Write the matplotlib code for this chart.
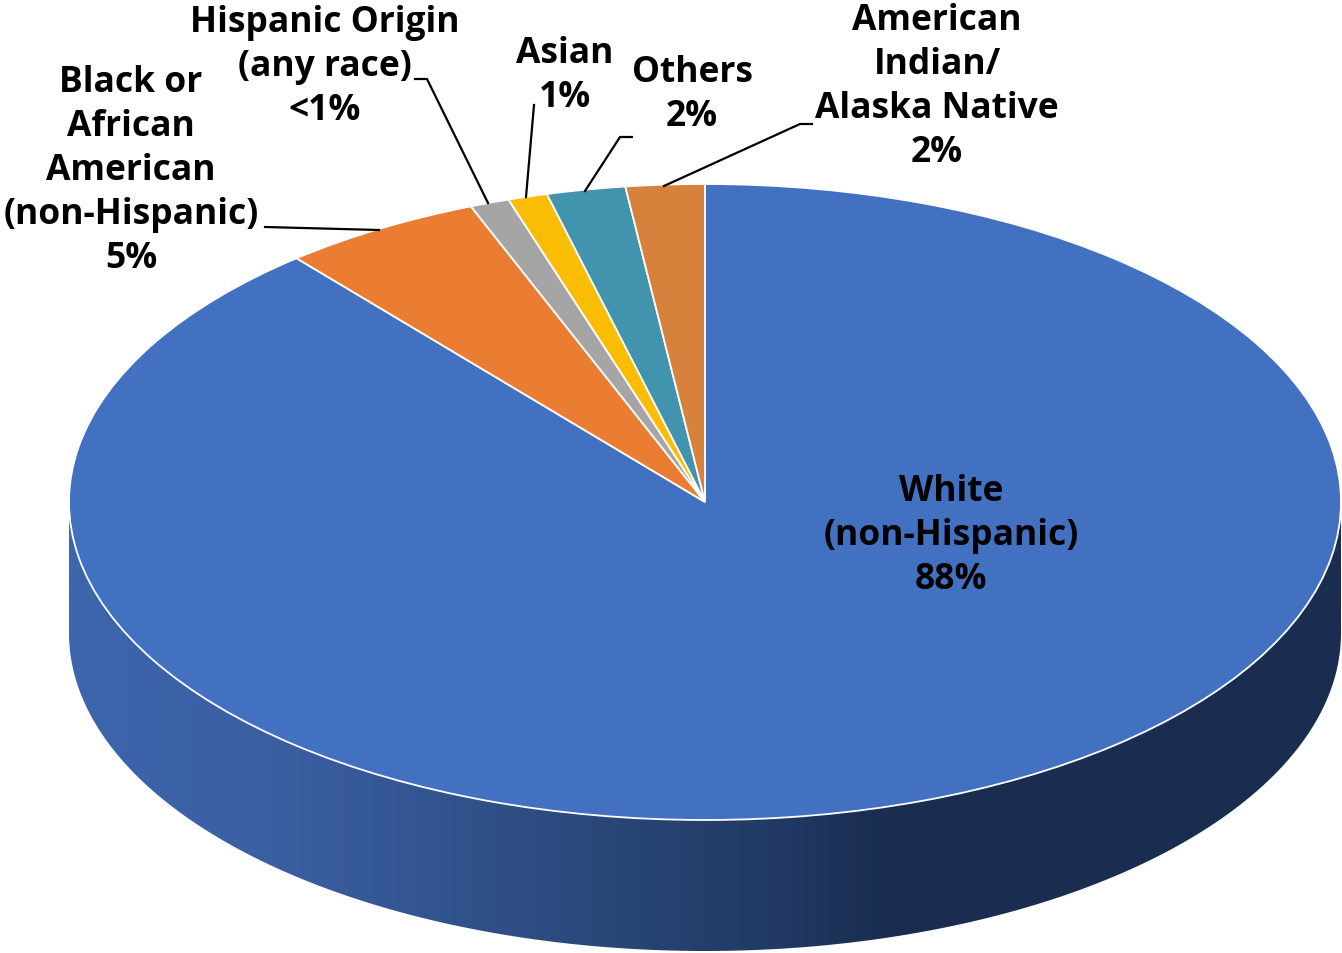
import numpy as np
import matplotlib
matplotlib.use("Agg")
import matplotlib.pyplot as plt
from matplotlib.colors import LinearSegmentedColormap
from matplotlib.patches import Polygon

# clockwise from 12 o'clock, shares measured off the slice edges
groups = ["White\n(non-Hispanic)", "Black or\nAfrican\nAmerican\n(non-Hispanic)",
          "Hispanic Origin\n(any race)", "Asian", "Others", "American\nIndian/\nAlaska Native"]
shares = [88.9, 5.1, 1.0, 1.0, 2.0, 2.0]
shown_pct = ["88%", "5%", "<1%", "1%", "2%", "2%"]
colors = ["#4271C1", "#EB7D32", "#A5A5A5", "#FBBD04", "#4293AD", "#D7823C"]

W, H = 1342, 954
CX, CY, RX, RY, DEPTH = 705, 503, 636, 318, 131

# label centres in pixels
label_xy = [(951, 536), (131, 171), (325, 67), (565, 76), (692, 95), (937, 87)]

# leader lines in pixels
leaders = [
    [(265, 228), (379, 231)],
    [(415, 80), (427, 80), (488, 204)],
    [(534, 106), (526, 198)],
    [(632, 138), (620, 138), (585, 192)],
    [(812, 125), (800, 125), (664, 187)],
]

# wall shading, pixel x and colour
wall_x_px = [69, 300, 430, 600, 780, 880, 1340]
wall_cols = ["#3D66AD", "#3A5DA0", "#32548F", "#2A4778", "#213964", "#1A2D50", "#1A2D50"]


def px(x, y):
    return (x - CX) / RX, (CY - y) / RY


plt.rcParams["font.family"] = ["Open Sans", "DejaVu Sans"]
fig = plt.figure(figsize=(W / 100, H / 100), dpi=100)
ax = fig.add_axes([0, 0, 1, 1])

wedges, _ = ax.pie(shares, colors=colors, startangle=90, counterclock=False, radius=1,
                   wedgeprops={"edgecolor": "white", "linewidth": 1.3, "zorder": 3})
ax.set_aspect("auto")

# side wall under the front half of the ellipse
t = np.linspace(np.pi, 2 * np.pi, 300)
d = DEPTH / RY
wall_x = np.concatenate([np.cos(t), np.cos(t[::-1])])
wall_y = np.concatenate([np.sin(t), np.sin(t[::-1]) - d])
wall = Polygon(np.column_stack([wall_x, wall_y]), closed=True, fc="none", ec="none")
ax.add_patch(wall)
pos = [(x - wall_x_px[0]) / (wall_x_px[-1] - wall_x_px[0]) for x in wall_x_px]
cmap = LinearSegmentedColormap.from_list("wall", list(zip(pos, wall_cols)))
grad = ax.imshow(np.linspace(0, 1, 512).reshape(1, -1), cmap=cmap, aspect="auto",
                 extent=(-1, 1, -1 - d, 0), zorder=1)
grad.set_clip_path(wall)

ax.set_xlim(-CX / RX, (W - CX) / RX)
ax.set_ylim((CY - H) / RY, CY / RY)
ax.set_aspect("auto")

for pts in leaders:
    xy = np.array([px(*p) for p in pts])
    ax.plot(xy[:, 0], xy[:, 1], color="black", lw=1.6, zorder=4, solid_joinstyle="miter")

for name, pct, (x, y) in zip(groups, shown_pct, label_xy):
    lx, ly = px(x, y)
    ax.text(lx, ly, name + "\n" + pct, ha="center", va="center", fontsize=25.5,
            fontweight="bold", color="black", linespacing=1.3, zorder=5)

fig.savefig("out.png", dpi=100, facecolor="white")
